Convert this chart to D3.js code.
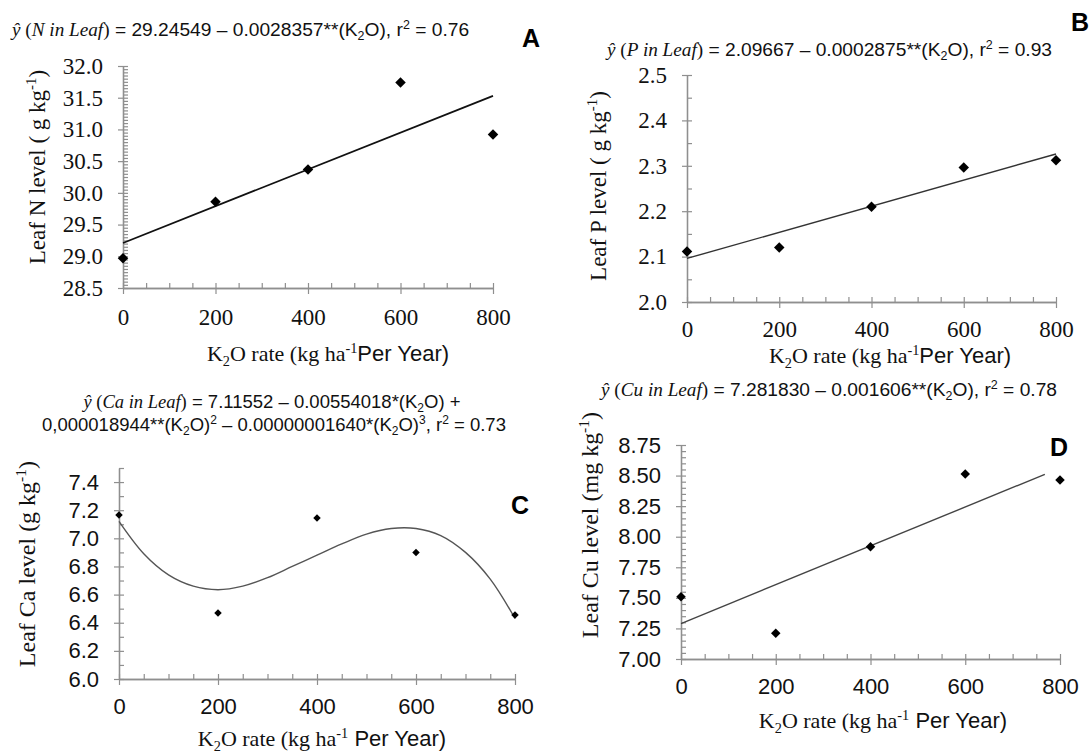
<!DOCTYPE html>
<html>
<head>
<meta charset="utf-8">
<script src="https://cdn.jsdelivr.net/npm/d3@7"></script>
<style>
  html, body { margin: 0; padding: 0; background: #fff; }
  svg { display: block; }
</style>
</head>
<body>
<div id="chart"></div>
<script>
/* Leaf nutrient levels vs K2O rate: four panels */

// ---- data ----
const rates = [0, 200, 400, 600, 800];
const rateTicks = [0, 200, 400, 600, 800];

const leafN = [28.97, 29.86, 30.37, 31.74, 30.92];
const leafP = [2.111, 2.120, 2.210, 2.296, 2.312];
const leafCa = [7.166, 6.47, 7.144, 6.90, 6.455];
const leafCu = [7.51, 7.21, 7.918, 8.513, 8.464];

// fitted lines / curve as they appear in the picture
const fitNx = [0, 800];
const fitN = [29.21, 31.53];
const fitPx = [0, 800];
const fitP = [2.096, 2.326];
const fitCux = [0, 768];
const fitCu = [7.29, 8.51];
const fitCax = [0, 50, 100, 150, 200, 250, 300, 350, 400, 450, 500, 550, 600, 650, 700, 750, 800];
const fitCa = [7.12, 6.89, 6.74, 6.66, 6.635, 6.66, 6.72, 6.80, 6.88, 6.96, 7.03, 7.07, 7.07, 7.02, 6.90, 6.71, 6.43];

const ticksN = [28.5, 29.0, 29.5, 30.0, 30.5, 31.0, 31.5, 32.0];
const ticksP = [2.0, 2.1, 2.2, 2.3, 2.4, 2.5];
const ticksCa = [6.0, 6.2, 6.4, 6.6, 6.8, 7.0, 7.2, 7.4];
const ticksCu = [7.00, 7.25, 7.50, 7.75, 8.00, 8.25, 8.50, 8.75];

const SERIF = "'Liberation Serif','Times New Roman',serif";
const SANS = "'Liberation Sans',Arial,sans-serif";
const AXIS = '#8f8f8f';

// text pieces
const xTitle = [
    { t: 'K', f: SERIF }, { t: '2', f: SERIF, sub: true }, { t: 'O rate (kg ha', f: SERIF },
    { t: '-1', f: SERIF, sup: true }, { t: 'Per Year)', f: SANS }
];
const xTitleSp = [
    { t: 'K', f: SERIF }, { t: '2', f: SERIF, sub: true }, { t: 'O rate (kg ha', f: SERIF },
    { t: '-1', f: SERIF, sup: true }, { t: ' Per Year)', f: SANS }
];
function yTitle(pre) {
    return [{ t: pre, f: SERIF }, { t: '-1', f: SERIF, sup: true }, { t: ')', f: SERIF }];
}
function yhat(name) {
    return [
        { t: 'ŷ', f: SERIF, i: true }, { t: ' (', f: SERIF }, { t: name, f: SERIF, i: true },
        { t: ')', f: SERIF }
    ];
}
const eqA = yhat('N in Leaf').concat([
    { t: ' = 29.24549 – 0.0028357**(K' }, { t: '2', sub: true }, { t: 'O), r' },
    { t: '2', sup: true }, { t: ' = 0.76' }
]);
const eqB = yhat('P in Leaf').concat([
    { t: ' = 2.09667 – 0.0002875**(K' }, { t: '2', sub: true }, { t: 'O), r' },
    { t: '2', sup: true }, { t: ' = 0.93' }
]);
const eqC1 = yhat('Ca in Leaf').concat([
    { t: ' = 7.11552 – 0.00554018*(K' }, { t: '2', sub: true }, { t: 'O) +' }
]);
const eqC2 = [
    { t: '0,000018944**(K' }, { t: '2', sub: true }, { t: 'O)' }, { t: '2', sup: true },
    { t: ' – 0.00000001640*(K' }, { t: '2', sub: true }, { t: 'O)' }, { t: '3', sup: true },
    { t: ', r' }, { t: '2', sup: true }, { t: ' = 0.73' }
];
const eqD = yhat('Cu in Leaf').concat([
    { t: ' = 7.281830 – 0.001606**(K' }, { t: '2', sub: true }, { t: 'O), r' },
    { t: '2', sup: true }, { t: ' = 0.78' }
]);

// ---- rich text helper (sub/superscripts via dy) ----
function rich(parent, x, y, anchor, segs, size, family) {
    const t = parent.append('text')
        .attr('x', x).attr('y', y)
        .attr('text-anchor', anchor)
        .attr('font-size', size)
        .attr('font-family', family || SANS)
        .attr('fill', '#111');
    let shift = 0;
    segs.forEach(s => {
        let target = 0;
        if (s.sup) target = -0.38 * size;
        if (s.sub) target = 0.22 * size;
        const ts = t.append('tspan').text(s.t).attr('dy', target - shift);
        shift = target;
        if (s.sup || s.sub) ts.attr('font-size', size * 0.65);
        if (s.f) ts.attr('font-family', s.f);
        if (s.i) ts.attr('font-style', 'italic');
    });
    return t;
}

function steps(lo, hi, step) {
    const n = Math.round((hi - lo) / step);
    return d3.range(n + 1).map(i => +(lo + i * step).toFixed(4));
}

const panels = [
    {
        label: 'A', labelPos: [531, 38],
        xr: [123, 493], yr: [288, 66], yDomain: [28.5, 32.0],
        yTicks: ticksN, yMinor: 0.05, fmt: '.1f', tickFont: SERIF, tickSize: 23, xPad: 15,
        vals: leafN, fitX: fitNx, fit: fitN, curve: d3.curveLinear,
        mark: 55, lineColor: '#111', lineW: 1.8,
        eqSize: 19.2,
        eq: [{ segs: eqA, x: 12, y: 36, anchor: 'start' }],
        yTitle: { segs: yTitle('Leaf N level ( g kg'), x: 37, y: 167, size: 23 },
        xTitle: { segs: xTitle, x: 328, y: 361 }
    },
    {
        label: 'B', labelPos: [1080, 22],
        xr: [687, 1056], yr: [302, 75], yDomain: [2.0, 2.5],
        yTicks: ticksP, yMinor: 0.05, fmt: '.1f', tickFont: SERIF, tickSize: 23, xPad: 13,
        vals: leafP, fitX: fitPx, fit: fitP, curve: d3.curveLinear,
        mark: 55, lineColor: '#333', lineW: 1.4,
        eqSize: 19.2,
        eq: [{ segs: eqB, x: 607, y: 56, anchor: 'start' }],
        yTitle: { segs: yTitle('Leaf P level ( g kg'), x: 598, y: 186, size: 23 },
        xTitle: { segs: xTitle, x: 890, y: 363 }
    },
    {
        label: 'C', labelPos: [520, 505],
        xr: [119, 515], yr: [679, 468], yDomain: [6.0, 7.5],
        yTicks: ticksCa, yMinor: 0.1, fmt: '.1f', tickFont: SANS, tickSize: 22, xPad: 13,
        vals: leafCa, fitX: fitCax, fit: fitCa, curve: d3.curveCatmullRom,
        mark: 28, lineColor: '#555', lineW: 1.4,
        eqSize: 18.5,
        eq: [
            { segs: eqC1, x: 272, y: 408, anchor: 'middle' },
            { segs: eqC2, x: 274, y: 431, anchor: 'middle' }
        ],
        yTitle: { segs: yTitle('Leaf Ca level (g kg'), x: 27, y: 564, size: 24 },
        xTitle: { segs: xTitleSp, x: 322, y: 746 }
    },
    {
        label: 'D', labelPos: [1059, 447],
        xr: [681, 1060], yr: [659, 445], yDomain: [7.0, 8.75],
        yTicks: ticksCu, yMinor: 0.05, fmt: '.2f', tickFont: SANS, tickSize: 22, xPad: 13,
        vals: leafCu, fitX: fitCux, fit: fitCu, curve: d3.curveLinear,
        mark: 45, lineColor: '#444', lineW: 1.4,
        eqSize: 19.2,
        eq: [{ segs: eqD, x: 601, y: 396, anchor: 'start' }],
        yTitle: { segs: yTitle('Leaf Cu level (mg kg'), x: 590, y: 525, size: 24 },
        xTitle: { segs: xTitleSp, x: 883, y: 728 }
    }
];

const svg = d3.select('#chart').append('svg')
    .attr('width', 1089)
    .attr('height', 753);

function styleAxis(sel, p, labels) {
    sel.select('.domain').attr('stroke', AXIS).attr('stroke-width', 1.3);
    sel.selectAll('.tick line').attr('stroke', AXIS).attr('stroke-width', 1.2);
    sel.selectAll('.tick text')
        .attr('fill', labels ? '#111' : 'none')
        .attr('font-family', p.tickFont)
        .attr('font-size', p.tickSize);
}

function drawPanel(p) {
    const g = svg.append('g');
    const x = d3.scaleLinear().domain([0, 800]).range(p.xr);
    const y = d3.scaleLinear().domain(p.yDomain).range(p.yr);
    const x0 = p.xr[0], y0 = p.yr[0];

    // y axis: major ticks left with labels, minor (and major) ticks right
    const yMinor = steps(p.yDomain[0], p.yDomain[1], p.yMinor);
    g.append('g')
        .attr('transform', `translate(${x0},0)`)
        .call(d3.axisRight(y).tickValues(yMinor).tickSize(5).tickSizeOuter(0).tickFormat(''))
        .call(s => styleAxis(s, p, false));
    g.append('g')
        .attr('transform', `translate(${x0},0)`)
        .call(d3.axisLeft(y).tickValues(p.yTicks).tickSize(5).tickSizeOuter(0)
            .tickPadding(15).tickFormat(d3.format(p.fmt)))
        .call(s => styleAxis(s, p, true));

    // x axis: majors crossing, minors every 50 upward
    const xMinor = steps(0, 800, 50);
    g.append('g')
        .attr('transform', `translate(0,${y0})`)
        .call(d3.axisTop(x).tickValues(xMinor).tickSize(5).tickSizeOuter(0).tickFormat(''))
        .call(s => styleAxis(s, p, false));
    g.append('g')
        .attr('transform', `translate(0,${y0})`)
        .call(d3.axisBottom(x).tickValues(rateTicks).tickSize(6).tickSizeOuter(0)
            .tickPadding(p.xPad).tickFormat(d3.format('d')))
        .call(s => styleAxis(s, p, true));

    // fitted line / curve
    const fitPts = p.fitX.map((v, i) => [v, p.fit[i]]);
    g.append('path')
        .datum(fitPts)
        .attr('d', d3.line().x(d => x(d[0])).y(d => y(d[1])).curve(p.curve))
        .attr('fill', 'none')
        .attr('stroke', p.lineColor)
        .attr('stroke-width', p.lineW);

    // diamond markers
    const sym = d3.symbol(d3.symbolSquare, p.mark);
    g.selectAll('.pt')
        .data(rates.map((r, i) => [r, p.vals[i]]))
        .join('path')
        .attr('class', 'pt')
        .attr('d', sym)
        .attr('transform', d => `translate(${x(d[0])},${y(d[1])}) rotate(45)`)
        .attr('fill', '#000');

    // equations
    p.eq.forEach(e => rich(g, e.x, e.y, e.anchor, e.segs, p.eqSize, SANS));

    // panel letter
    g.append('text')
        .attr('x', p.labelPos[0]).attr('y', p.labelPos[1])
        .attr('text-anchor', 'middle')
        .attr('dominant-baseline', 'central')
        .attr('font-family', SANS)
        .attr('font-weight', 'bold')
        .attr('font-size', 25)
        .attr('fill', '#000')
        .text(p.label);

    // axis titles
    rich(g, p.xTitle.x, p.xTitle.y, 'middle', p.xTitle.segs, 22, SERIF);
    const yt = p.yTitle;
    const gy = g.append('g').attr('transform', `translate(${yt.x + 8},${yt.y}) rotate(-90)`);
    rich(gy, 0, 0, 'middle', yt.segs, yt.size, SERIF);
}

panels.forEach(drawPanel);
</script>
</body>
</html>
